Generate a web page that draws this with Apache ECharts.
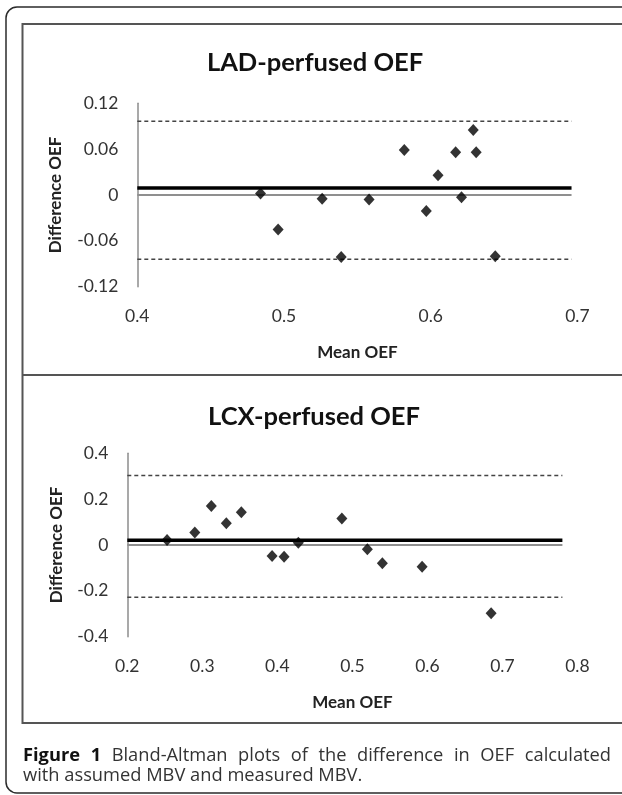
<!DOCTYPE html>
<html><head><meta charset="utf-8">
<script src="https://cdn.jsdelivr.net/npm/echarts@6/dist/echarts.min.js"></script>
<style>html,body{margin:0;padding:0;background:#fff}#c{width:622px;height:795px}</style>
</head><body><div id="c"></div>
<script>
// ---- LAD-perfused OEF (top panel) ----
const ladMeanOEF = [0.484, 0.496, 0.526, 0.539, 0.558, 0.582, 0.597, 0.605, 0.617, 0.621, 0.629, 0.631, 0.644];
const ladDiffOEF = [0.002, -0.045, -0.005, -0.081, -0.006, 0.059, -0.021, 0.026, 0.056, -0.003, 0.085, 0.056, -0.080];
const ladBias = 0.0092;
const ladUpperLoA = 0.0966;
const ladLowerLoA = -0.0842;
const ladLineRange = [0.4, 0.696];
const ladXTicks = [0.4, 0.5, 0.6, 0.7];
const ladYTicks = [-0.12, -0.06, 0, 0.06, 0.12];

// ---- LCX-perfused OEF (bottom panel) ----
const lcxMeanOEF = [0.253, 0.290, 0.312, 0.332, 0.352, 0.393, 0.409, 0.428, 0.486, 0.520, 0.540, 0.593, 0.685];
const lcxDiffOEF = [0.022, 0.054, 0.170, 0.095, 0.143, -0.048, -0.051, 0.010, 0.116, -0.018, -0.080, -0.095, -0.298];
const lcxBias = 0.021;
const lcxUpperLoA = 0.303;
const lcxLowerLoA = -0.228;
const lcxLineRange = [0.2, 0.780];
const lcxXTicks = [0.2, 0.3, 0.4, 0.5, 0.6, 0.7, 0.8];
const lcxYTicks = [-0.4, -0.2, 0, 0.2, 0.4];

const titles = ['LAD-perfused OEF', 'LCX-perfused OEF'];
const xName = 'Mean OEF';
const yName = 'Difference OEF';
const captionBold = ['Figure', '1'];
const captionLine1 = 'Bland-Altman plots of the difference in OEF calculated';
const captionLine2 = 'with assumed MBV and measured MBV.';

const FONT = 'Lato';
const fmt = v => String(parseFloat(Number(v).toFixed(2)));

function xAxisFor(ticks, gi) {
  return {
    type: 'value', gridIndex: gi,
    min: ticks[0], max: ticks[ticks.length - 1],
    interval: +(ticks[1] - ticks[0]).toFixed(4),
    axisLine: { show: false }, axisTick: { show: false }, splitLine: { show: false },
    axisLabel: { margin: 21, formatter: fmt, color: '#333', fontFamily: FONT, fontSize: 17.5 },
    name: xName, nameLocation: 'middle', nameGap: 57,
    nameTextStyle: { color: '#222', fontFamily: FONT, fontWeight: 'bold', fontSize: 17 }
  };
}
function yAxisFor(ticks, gi, gap) {
  return {
    type: 'value', gridIndex: gi,
    min: ticks[0], max: ticks[ticks.length - 1],
    interval: +(ticks[1] - ticks[0]).toFixed(4),
    axisLine: { show: true, lineStyle: { color: '#8c8c8c', width: 1.5 } },
    axisTick: { show: false }, splitLine: { show: false },
    axisLabel: { margin: 19, formatter: fmt, color: '#333', fontFamily: FONT, fontSize: 17.5 },
    name: yName, nameLocation: 'middle', nameGap: gap,
    nameTextStyle: { color: '#222', fontFamily: FONT, fontWeight: 'bold', fontSize: 17 }
  };
}
function hline(gi, range, y, style) {
  return {
    type: 'line', xAxisIndex: gi, yAxisIndex: gi, symbol: 'none', silent: true,
    data: [[range[0], y], [range[1], y]], lineStyle: style, z: 2
  };
}
function scatter(gi, xs, ys) {
  return {
    type: 'scatter', xAxisIndex: gi, yAxisIndex: gi, symbol: 'diamond', symbolSize: [11, 12],
    itemStyle: { color: '#000' }, data: xs.map((x, i) => [x, ys[i]]), z: 5
  };
}
const dashed = { type: [4, 3], color: '#444', width: 1.5 };
const bias = { color: '#000', width: 3.5 };
const zero = { color: '#8f8f8f', width: 2 };

// caption layout (justified first line)
const ctx = document.createElement('canvas').getContext('2d');
const capSize = 18.3;
const capReg = capSize + 'px "Open Sans"';
const capBoldF = 'bold ' + capSize + 'px "Open Sans"';
function tw(t, f) { ctx.font = f; return ctx.measureText(t).width; }
const words1 = captionBold.map(t => ({ t, b: true })).concat(captionLine1.split(' ').map(t => ({ t, b: false })));
const capLeft = 23, capRight = 611;
const sumW = words1.reduce((s, w) => s + tw(w.t, w.b ? capBoldF : capReg), 0);
const gapW = (capRight - capLeft - sumW) / (words1.length - 1);
const capEls = [];
let cx = capLeft;
words1.forEach(w => {
  capEls.push({ type: 'text', x: cx, y: 756, style: { text: w.t, fontFamily: 'Open Sans', fontWeight: w.b ? 'bold' : 'normal', fontSize: capSize, fill: w.b ? '#111' : '#333', verticalAlign: 'middle', align: 'left' } });
  cx += tw(w.t, w.b ? capBoldF : capReg) + gapW;
});
capEls.push({ type: 'text', x: capLeft, y: 776, style: { text: captionLine2, fontFamily: 'Open Sans', fontSize: capSize, fill: '#333', verticalAlign: 'middle', align: 'left' } });

const chart = echarts.init(document.getElementById('c'), null, { renderer: 'canvas' });
chart.setOption({
  backgroundColor: '#fff',
  animation: false,
  title: [
    { text: titles[0], left: 315, top: 50, textAlign: 'center', padding: 0, textStyle: { fontFamily: FONT, fontWeight: 'bold', fontSize: 25.5, color: '#111' } },
    { text: titles[1], left: 314, top: 404, textAlign: 'center', padding: 0, textStyle: { fontFamily: FONT, fontWeight: 'bold', fontSize: 25.5, color: '#111' } }
  ],
  grid: [
    { left: 137.3, right: 44.6, top: 103.3, height: 183.4, containLabel: false },
    { left: 127.3, right: 44.6, top: 453.3, height: 183.4, containLabel: false }
  ],
  xAxis: [xAxisFor(ladXTicks, 0), xAxisFor(lcxXTicks, 1)],
  yAxis: [yAxisFor(ladYTicks, 0, 73), yAxisFor(lcxYTicks, 1, 62)],
  series: [
    hline(0, ladLineRange, 0, zero),
    hline(0, ladLineRange, ladUpperLoA, dashed),
    hline(0, ladLineRange, ladLowerLoA, dashed),
    hline(0, ladLineRange, ladBias, bias),
    scatter(0, ladMeanOEF, ladDiffOEF),
    hline(1, lcxLineRange, 0, zero),
    hline(1, lcxLineRange, lcxUpperLoA, dashed),
    hline(1, lcxLineRange, lcxLowerLoA, dashed),
    hline(1, lcxLineRange, lcxBias, bias),
    scatter(1, lcxMeanOEF, lcxDiffOEF)
  ],
  graphic: [
    { type: 'rect', shape: { x: 6, y: 7, width: 660, height: 786, r: 11 }, style: { fill: 'none', stroke: '#2b2b2b', lineWidth: 1.5 }, z: 0, silent: true },
    { type: 'rect', shape: { x: 22.5, y: 24, width: 640, height: 699 }, style: { fill: 'none', stroke: '#555', lineWidth: 2 }, z: 0, silent: true },
    { type: 'line', shape: { x1: 22.5, y1: 375, x2: 622, y2: 375 }, style: { stroke: '#555', lineWidth: 2 }, z: 0, silent: true }
  ].concat(capEls)
});
</script></body></html>
